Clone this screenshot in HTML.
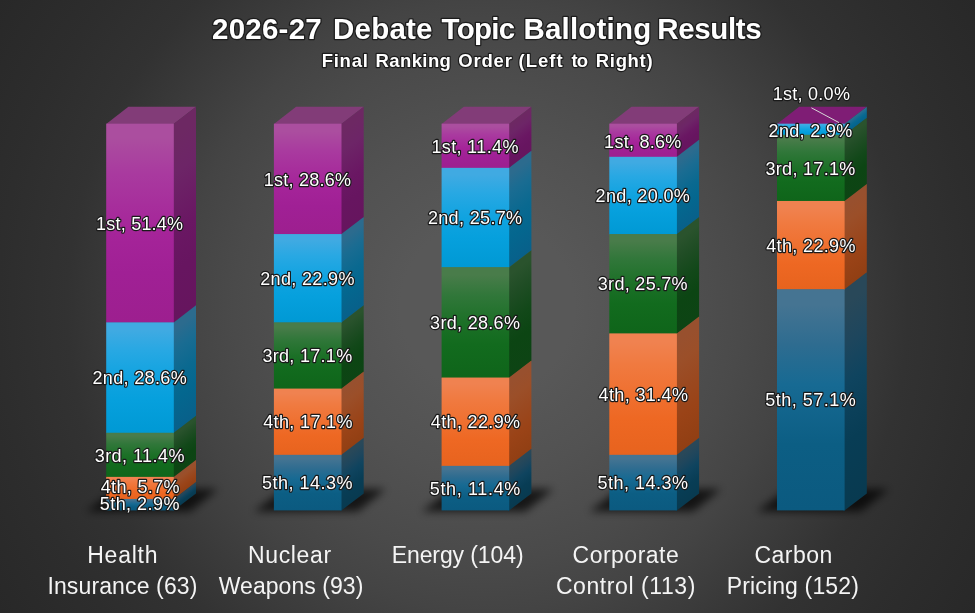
<!DOCTYPE html>
<html lang="en"><head><meta charset="utf-8"><title>2026-27 Debate Topic Balloting Results</title>
<style>
html,body{margin:0;padding:0;background:#282828;}
body{width:975px;height:613px;overflow:hidden;}
svg{display:block;}
text{font-family:"Liberation Sans",sans-serif;}
.ttl{font-weight:bold;font-size:29.5px;fill:#fff;stroke:#1c1c1c;stroke-width:2.6px;stroke-linejoin:round;paint-order:stroke fill;}
.sub{font-weight:bold;font-size:18.5px;fill:#fff;stroke:#1c1c1c;stroke-width:2.4px;stroke-linejoin:round;paint-order:stroke fill;}
.dl{font-size:18px;fill:#fff;stroke:#1a1a1a;stroke-width:2.4px;stroke-linejoin:round;paint-order:stroke fill;}
.cat{font-size:23px;fill:#f4f4f4;}
</style></head><body>
<svg width="975" height="613" viewBox="0 0 975 613">
<defs>
<radialGradient id="bg" gradientUnits="userSpaceOnUse" cx="487.5" cy="306.5" r="576">
<stop offset="0" stop-color="#585858"/>
<stop offset="0.15" stop-color="#585858"/>
<stop offset="0.217" stop-color="#555555"/>
<stop offset="0.29" stop-color="#525252"/>
<stop offset="0.44" stop-color="#4a4a4a"/>
<stop offset="0.53" stop-color="#444444"/>
<stop offset="0.73" stop-color="#323232"/>
<stop offset="0.85" stop-color="#2d2d2d"/>
<stop offset="1" stop-color="#282828"/>
</radialGradient>
<linearGradient id="f0" x1="0" y1="0" x2="0" y2="1"><stop offset="0" stop-color="#AB4E9F"/><stop offset="0.07" stop-color="#AB4E9F"/><stop offset="0.25" stop-color="#A93A9F"/><stop offset="0.55" stop-color="#A52499"/><stop offset="0.75" stop-color="#A02095"/><stop offset="1" stop-color="#9D1F8F"/></linearGradient>
<linearGradient id="s0" x1="0" y1="0" x2="0" y2="1"><stop offset="0" stop-color="#6D2863"/><stop offset="0.07" stop-color="#6D2863"/><stop offset="0.25" stop-color="#6D2567"/><stop offset="0.55" stop-color="#6A1763"/><stop offset="0.75" stop-color="#671560"/><stop offset="1" stop-color="#66155E"/></linearGradient>
<linearGradient id="f1" x1="0" y1="0" x2="0" y2="1"><stop offset="0" stop-color="#40AAE2"/><stop offset="0.07" stop-color="#40AAE2"/><stop offset="0.25" stop-color="#28A8E3"/><stop offset="0.5" stop-color="#10A3E0"/><stop offset="0.7" stop-color="#06A0DD"/><stop offset="1" stop-color="#0099D4"/></linearGradient>
<linearGradient id="s1" x1="0" y1="0" x2="0" y2="1"><stop offset="0" stop-color="#2C6B8E"/><stop offset="0.07" stop-color="#2C6B8E"/><stop offset="0.25" stop-color="#1A6C92"/><stop offset="0.5" stop-color="#0A6990"/><stop offset="0.7" stop-color="#04678F"/><stop offset="1" stop-color="#08608A"/></linearGradient>
<linearGradient id="f2" x1="0" y1="0" x2="0" y2="1"><stop offset="0" stop-color="#497C4A"/><stop offset="0.07" stop-color="#497C4A"/><stop offset="0.25" stop-color="#31773A"/><stop offset="0.5" stop-color="#1C7027"/><stop offset="0.7" stop-color="#126B1E"/><stop offset="1" stop-color="#0F651A"/></linearGradient>
<linearGradient id="s2" x1="0" y1="0" x2="0" y2="1"><stop offset="0" stop-color="#2A532D"/><stop offset="0.07" stop-color="#2A532D"/><stop offset="0.25" stop-color="#204D25"/><stop offset="0.5" stop-color="#124819"/><stop offset="0.7" stop-color="#0C4513"/><stop offset="1" stop-color="#0D4414"/></linearGradient>
<linearGradient id="f3" x1="0" y1="0" x2="0" y2="1"><stop offset="0" stop-color="#F08250"/><stop offset="0.07" stop-color="#F08250"/><stop offset="0.25" stop-color="#F07A40"/><stop offset="0.5" stop-color="#EF7030"/><stop offset="0.7" stop-color="#EE6823"/><stop offset="1" stop-color="#E7631E"/></linearGradient>
<linearGradient id="s3" x1="0" y1="0" x2="0" y2="1"><stop offset="0" stop-color="#98502E"/><stop offset="0.07" stop-color="#98502E"/><stop offset="0.25" stop-color="#9B4F29"/><stop offset="0.5" stop-color="#9A481F"/><stop offset="0.7" stop-color="#9A4317"/><stop offset="1" stop-color="#913F13"/></linearGradient>
<linearGradient id="f4" x1="0" y1="0" x2="0" y2="1"><stop offset="0" stop-color="#457492"/><stop offset="0.07" stop-color="#457492"/><stop offset="0.25" stop-color="#2E6C90"/><stop offset="0.43" stop-color="#176A93"/><stop offset="0.7" stop-color="#0C5E84"/><stop offset="1" stop-color="#0B5A80"/></linearGradient>
<linearGradient id="s4" x1="0" y1="0" x2="0" y2="1"><stop offset="0" stop-color="#294859"/><stop offset="0.07" stop-color="#294859"/><stop offset="0.25" stop-color="#1E465D"/><stop offset="0.43" stop-color="#0F445F"/><stop offset="0.7" stop-color="#083D55"/><stop offset="1" stop-color="#083A50"/></linearGradient>
<filter id="sh" x="-30%" y="-80%" width="160%" height="260%"><feGaussianBlur stdDeviation="4.5"/></filter>
</defs>
<rect width="975" height="613" fill="url(#bg)"/>
<polygon filter="url(#sh)" fill="#000" fill-opacity="0.72" points="86.2,511.5 189.8,511.5 218.0,489.0 116.4,489.0"/>
<polygon filter="url(#sh)" fill="#000" fill-opacity="0.72" points="253.9,511.5 357.5,511.5 385.7,489.0 284.1,489.0"/>
<polygon filter="url(#sh)" fill="#000" fill-opacity="0.72" points="421.6,511.5 525.2,511.5 553.4,489.0 451.8,489.0"/>
<polygon filter="url(#sh)" fill="#000" fill-opacity="0.72" points="589.3,511.5 692.9,511.5 721.1,489.0 619.5,489.0"/>
<polygon filter="url(#sh)" fill="#000" fill-opacity="0.72" points="757.0,511.5 860.6,511.5 888.8,489.0 787.2,489.0"/>
<g>
<polygon fill="#823C78" points="106.2,124.1 128.4,106.7 196.0,106.7 173.8,124.1"/>
<rect x="-1" y="0" width="23.2" height="199.07" fill="url(#s0)" transform="matrix(1 -0.76577 0 1 173.8 123.70)"/>
<rect x="-1" y="0" width="23.2" height="110.77" fill="url(#s1)" transform="matrix(1 -0.76577 0 1 173.8 322.37)"/>
<rect x="-1" y="0" width="23.2" height="44.55" fill="url(#s2)" transform="matrix(1 -0.76577 0 1 173.8 432.74)"/>
<rect x="-1" y="0" width="23.2" height="22.47" fill="url(#s3)" transform="matrix(1 -0.76577 0 1 173.8 476.89)"/>
<rect x="-1" y="0" width="23.2" height="11.44" fill="url(#s4)" transform="matrix(1 -0.76577 0 1 173.8 498.96)"/>
<rect x="106.2" y="123.70" width="67.6" height="199.07" fill="url(#f0)"/>
<rect x="106.2" y="322.37" width="67.6" height="110.77" fill="url(#f1)"/>
<rect x="106.2" y="432.74" width="67.6" height="44.55" fill="url(#f2)"/>
<rect x="106.2" y="476.89" width="67.6" height="22.47" fill="url(#f3)"/>
<rect x="106.2" y="498.96" width="67.6" height="11.44" fill="url(#f4)"/>
</g>
<g>
<polygon fill="#823C78" points="273.9,124.1 296.1,106.7 363.7,106.7 341.5,124.1"/>
<rect x="-1" y="0" width="23.2" height="110.77" fill="url(#s0)" transform="matrix(1 -0.76577 0 1 341.5 123.70)"/>
<rect x="-1" y="0" width="23.2" height="88.70" fill="url(#s1)" transform="matrix(1 -0.76577 0 1 341.5 234.07)"/>
<rect x="-1" y="0" width="23.2" height="66.62" fill="url(#s2)" transform="matrix(1 -0.76577 0 1 341.5 322.37)"/>
<rect x="-1" y="0" width="23.2" height="66.62" fill="url(#s3)" transform="matrix(1 -0.76577 0 1 341.5 388.59)"/>
<rect x="-1" y="0" width="23.2" height="55.59" fill="url(#s4)" transform="matrix(1 -0.76577 0 1 341.5 454.81)"/>
<rect x="273.9" y="123.70" width="67.6" height="110.77" fill="url(#f0)"/>
<rect x="273.9" y="234.07" width="67.6" height="88.70" fill="url(#f1)"/>
<rect x="273.9" y="322.37" width="67.6" height="66.62" fill="url(#f2)"/>
<rect x="273.9" y="388.59" width="67.6" height="66.62" fill="url(#f3)"/>
<rect x="273.9" y="454.81" width="67.6" height="55.59" fill="url(#f4)"/>
</g>
<g>
<polygon fill="#823C78" points="441.6,124.1 463.8,106.7 531.4,106.7 509.2,124.1"/>
<rect x="-1" y="0" width="23.2" height="44.55" fill="url(#s0)" transform="matrix(1 -0.76577 0 1 509.2 123.70)"/>
<rect x="-1" y="0" width="23.2" height="99.73" fill="url(#s1)" transform="matrix(1 -0.76577 0 1 509.2 167.85)"/>
<rect x="-1" y="0" width="23.2" height="110.77" fill="url(#s2)" transform="matrix(1 -0.76577 0 1 509.2 267.18)"/>
<rect x="-1" y="0" width="23.2" height="88.70" fill="url(#s3)" transform="matrix(1 -0.76577 0 1 509.2 377.55)"/>
<rect x="-1" y="0" width="23.2" height="44.55" fill="url(#s4)" transform="matrix(1 -0.76577 0 1 509.2 465.85)"/>
<rect x="441.6" y="123.70" width="67.6" height="44.55" fill="url(#f0)"/>
<rect x="441.6" y="167.85" width="67.6" height="99.73" fill="url(#f1)"/>
<rect x="441.6" y="267.18" width="67.6" height="110.77" fill="url(#f2)"/>
<rect x="441.6" y="377.55" width="67.6" height="88.70" fill="url(#f3)"/>
<rect x="441.6" y="465.85" width="67.6" height="44.55" fill="url(#f4)"/>
</g>
<g>
<polygon fill="#823C78" points="609.3,124.1 631.5,106.7 699.1,106.7 676.9,124.1"/>
<rect x="-1" y="0" width="23.2" height="33.51" fill="url(#s0)" transform="matrix(1 -0.76577 0 1 676.9 123.70)"/>
<rect x="-1" y="0" width="23.2" height="77.66" fill="url(#s1)" transform="matrix(1 -0.76577 0 1 676.9 156.81)"/>
<rect x="-1" y="0" width="23.2" height="99.73" fill="url(#s2)" transform="matrix(1 -0.76577 0 1 676.9 234.07)"/>
<rect x="-1" y="0" width="23.2" height="121.81" fill="url(#s3)" transform="matrix(1 -0.76577 0 1 676.9 333.41)"/>
<rect x="-1" y="0" width="23.2" height="55.59" fill="url(#s4)" transform="matrix(1 -0.76577 0 1 676.9 454.81)"/>
<rect x="609.3" y="123.70" width="67.6" height="33.51" fill="url(#f0)"/>
<rect x="609.3" y="156.81" width="67.6" height="77.66" fill="url(#f1)"/>
<rect x="609.3" y="234.07" width="67.6" height="99.73" fill="url(#f2)"/>
<rect x="609.3" y="333.41" width="67.6" height="121.81" fill="url(#f3)"/>
<rect x="609.3" y="454.81" width="67.6" height="55.59" fill="url(#f4)"/>
</g>
<g>
<polygon fill="#7F1D75" points="777.0,124.1 799.2,106.7 866.8,106.7 844.6,124.1"/>
<rect x="-1" y="0" width="23.2" height="11.44" fill="url(#s1)" transform="matrix(1 -0.76577 0 1 844.6 123.70)"/>
<rect x="-1" y="0" width="23.2" height="66.62" fill="url(#s2)" transform="matrix(1 -0.76577 0 1 844.6 134.74)"/>
<rect x="-1" y="0" width="23.2" height="88.70" fill="url(#s3)" transform="matrix(1 -0.76577 0 1 844.6 200.96)"/>
<rect x="-1" y="0" width="23.2" height="221.14" fill="url(#s4)" transform="matrix(1 -0.76577 0 1 844.6 289.26)"/>
<rect x="777.0" y="123.70" width="67.6" height="11.44" fill="url(#f1)"/>
<rect x="777.0" y="134.74" width="67.6" height="66.62" fill="url(#f2)"/>
<rect x="777.0" y="200.96" width="67.6" height="88.70" fill="url(#f3)"/>
<rect x="777.0" y="289.26" width="67.6" height="221.14" fill="url(#f4)"/>
</g>
<line x1="811.4" y1="107.8" x2="839" y2="122.6" stroke="#d8d8d8" stroke-width="1"/>
<g opacity="0.999">
<text class="ttl" x="212.0" y="39.0" textLength="109.7" lengthAdjust="spacing">2026-27</text>
<text class="ttl" x="333.0" y="39.0" textLength="99.5" lengthAdjust="spacing">Debate</text>
<text class="ttl" x="441.5" y="39.0" textLength="73.7" lengthAdjust="spacing">Topic</text>
<text class="ttl" x="523.5" y="39.0" textLength="127.7" lengthAdjust="spacing">Balloting</text>
<text class="ttl" x="657.3" y="39.0" textLength="104.3" lengthAdjust="spacing">Results</text>
<text class="sub" x="321.7" y="67.3" textLength="46.1" lengthAdjust="spacing">Final</text>
<text class="sub" x="375.5" y="67.3" textLength="75.4" lengthAdjust="spacing">Ranking</text>
<text class="sub" x="458.3" y="67.3" textLength="53.6" lengthAdjust="spacing">Order</text>
<text class="sub" x="518.6" y="67.3" textLength="44.0" lengthAdjust="spacing">(Left</text>
<text class="sub" x="571.4" y="67.3" textLength="16.7" lengthAdjust="spacing">to</text>
<text class="sub" x="595.8" y="67.3" textLength="56.8" lengthAdjust="spacing">Right)</text>
<text class="cat" x="87.2" y="562.7" textLength="70.3" lengthAdjust="spacing">Health</text>
<text class="cat" x="47.4" y="594.2" textLength="150.0" lengthAdjust="spacing">Insurance (63)</text>
<text class="cat" x="248.0" y="562.7" textLength="83.1" lengthAdjust="spacing">Nuclear</text>
<text class="cat" x="218.7" y="594.2" textLength="144.6" lengthAdjust="spacing">Weapons (93)</text>
<text class="cat" x="391.7" y="562.7" textLength="131.9" lengthAdjust="spacing">Energy (104)</text>
<text class="cat" x="572.6" y="562.7" textLength="106.1" lengthAdjust="spacing">Corporate</text>
<text class="cat" x="555.9" y="594.2" textLength="139.5" lengthAdjust="spacing">Control (113)</text>
<text class="cat" x="754.4" y="562.7" textLength="77.8" lengthAdjust="spacing">Carbon</text>
<text class="cat" x="726.7" y="594.2" textLength="132.2" lengthAdjust="spacing">Pricing (152)</text>
<text class="dl" x="96.0" y="230.4" textLength="87.1" lengthAdjust="spacing">1st, 51.4%</text>
<text class="dl" x="92.5" y="384.3" textLength="94.2" lengthAdjust="spacing">2nd, 28.6%</text>
<text class="dl" x="94.7" y="461.5" textLength="89.8" lengthAdjust="spacing">3rd, 11.4%</text>
<text class="dl" x="100.7" y="493.3" textLength="78.8" lengthAdjust="spacing">4th, 5.7%</text>
<text class="dl" x="99.7" y="509.9" textLength="79.8" lengthAdjust="spacing">5th, 2.9%</text>
<text class="dl" x="263.8" y="186.3" textLength="87.1" lengthAdjust="spacing">1st, 28.6%</text>
<text class="dl" x="260.2" y="284.9" textLength="94.2" lengthAdjust="spacing">2nd, 22.9%</text>
<text class="dl" x="262.4" y="362.2" textLength="89.8" lengthAdjust="spacing">3rd, 17.1%</text>
<text class="dl" x="263.2" y="428.4" textLength="89.3" lengthAdjust="spacing">4th, 17.1%</text>
<text class="dl" x="262.0" y="489.1" textLength="90.5" lengthAdjust="spacing">5th, 14.3%</text>
<text class="dl" x="431.4" y="153.2" textLength="87.1" lengthAdjust="spacing">1st, 11.4%</text>
<text class="dl" x="427.9" y="224.2" textLength="94.2" lengthAdjust="spacing">2nd, 25.7%</text>
<text class="dl" x="430.1" y="329.1" textLength="89.8" lengthAdjust="spacing">3rd, 28.6%</text>
<text class="dl" x="430.8" y="428.4" textLength="89.3" lengthAdjust="spacing">4th, 22.9%</text>
<text class="dl" x="429.8" y="494.6" textLength="90.5" lengthAdjust="spacing">5th, 11.4%</text>
<text class="dl" x="604.1" y="147.7" textLength="77.2" lengthAdjust="spacing">1st, 8.6%</text>
<text class="dl" x="595.6" y="202.1" textLength="94.2" lengthAdjust="spacing">2nd, 20.0%</text>
<text class="dl" x="597.8" y="290.4" textLength="89.8" lengthAdjust="spacing">3rd, 25.7%</text>
<text class="dl" x="598.6" y="400.8" textLength="89.3" lengthAdjust="spacing">4th, 31.4%</text>
<text class="dl" x="597.4" y="489.1" textLength="90.5" lengthAdjust="spacing">5th, 14.3%</text>
<text class="dl" x="772.7" y="99.8" textLength="77.2" lengthAdjust="spacing">1st, 0.0%</text>
<text class="dl" x="768.6" y="136.5" textLength="83.7" lengthAdjust="spacing">2nd, 2.9%</text>
<text class="dl" x="765.5" y="174.5" textLength="89.8" lengthAdjust="spacing">3rd, 17.1%</text>
<text class="dl" x="766.2" y="251.8" textLength="89.3" lengthAdjust="spacing">4th, 22.9%</text>
<text class="dl" x="765.2" y="406.3" textLength="90.5" lengthAdjust="spacing">5th, 57.1%</text>
</g>
</svg>
</body></html>
